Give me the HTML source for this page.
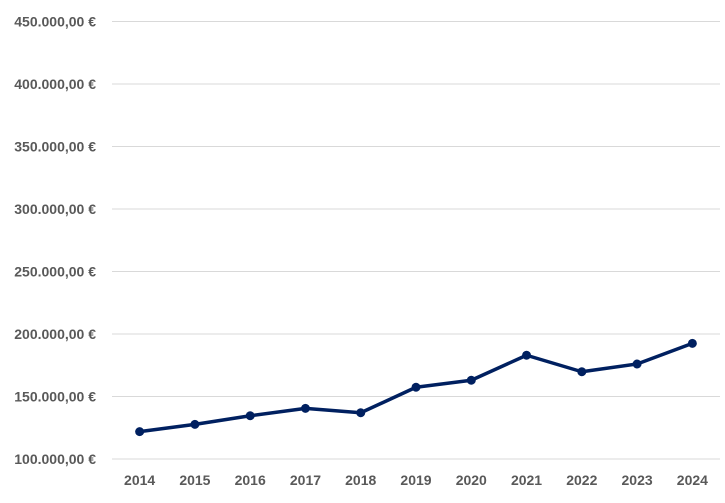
<!DOCTYPE html>
<html><head><meta charset="utf-8"><style>
body{margin:0;background:#fff;}
text{font-family:"Liberation Sans",sans-serif;font-weight:bold;font-size:14px;fill:#595959;}
</style></head><body>
<svg id="chart" width="725" height="498" xmlns="http://www.w3.org/2000/svg"></svg>
<script>
const years=["2014","2015","2016","2017","2018","2019","2020","2021","2022","2023","2024"];
const prices=[121900,127700,134600,140500,137000,157400,163000,183000,169800,176000,192500];
const yTicks=[100000,150000,200000,250000,300000,350000,400000,450000];
const yTickLabels=["100.000,00 €","150.000,00 €","200.000,00 €","250.000,00 €","300.000,00 €","350.000,00 €","400.000,00 €","450.000,00 €"];
const svg=document.getElementById('chart');
const NS="http://www.w3.org/2000/svg";
const x0=112,x1=720,yTop=21.5,yBot=459;
const yS=v=>yBot-(v-100000)/(450000-100000)*(yBot-yTop);
const step=(x1-x0)/years.length;
const xS=i=>x0+step*(i+0.5);
function mk(t,a){const e=document.createElementNS(NS,t);for(const k in a)e.setAttribute(k,a[k]);svg.appendChild(e);return e;}
yTicks.forEach((v,i)=>{
 const g=mk('line',{x1:x0,x2:x1,y1:yS(v),y2:yS(v),stroke:'#d9d9d9','stroke-width':1});
 
 
 const t=mk('text',{x:96,y:yS(v)+5,'text-anchor':'end'});
 t.textContent=yTickLabels[i];
 
 
});
years.forEach((y,i)=>{
 const t=mk('text',{x:xS(i),y:485,'text-anchor':'middle'});
 t.textContent=y;
 
 
});
const pts=prices.map((v,i)=>xS(i)+','+yS(v)).join(' ');
const pl=mk('polyline',{points:pts,fill:'none',stroke:'#002060','stroke-width':3.5,'stroke-linejoin':'round'});


prices.forEach((v,i)=>{
 const c=mk('circle',{cx:xS(i),cy:yS(v),r:4.5,fill:'#002060'});
 
 
});
</script>
</body></html>
